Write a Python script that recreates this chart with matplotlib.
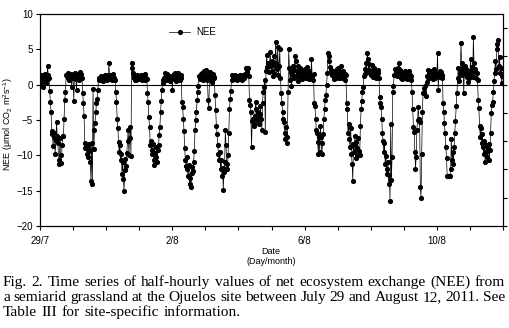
import numpy as np
import matplotlib.pyplot as plt

plt.rcParams['font.family'] = ['Liberation Sans', 'DejaVu Sans']
plt.rcParams['mathtext.fontset'] = 'custom'
plt.rcParams['mathtext.rm'] = 'Liberation Sans'
plt.rcParams['mathtext.it'] = 'Liberation Sans:italic'

# half-hourly NEE (umol CO2 m-2 s-1), 48 values per day
nee_29jul = [1.2, 0.3, 1.4, 1.0, -0.3, 1.3, 0.8, 1.5, 0.2, 1.1, 0.6, 2.6, 1.3, 0.9,
             -0.9, -2.4, -3.8, -6.5, -7.0,
             -8.7, -6.8, -7.4, -9.8, -7.9, -5.3, -7.2, -8.2, -10.6, -11.2, -7.5, -9.9, -11.1, -8.6, -7.3,
             -7.3, -4.8, -2.1, -1.0,
             1.4, 1.2, 0.9, 1.7, 0.7, 1.3, 1.0, 1.5, -0.4, 1.2]
nee_30jul = [0.9, -2.3, 1.2, 1.6, 0.8, -0.7, 1.4, 1.1, 0.6, 1.3, 1.8, 0.9, 1.5, 1.0,
             -1.2, -2.6, -4.5,
             -8.2, -9.0, -8.6, -9.8, -8.9, -10.2, -8.4, -9.4, -11.0, -13.6, -8.3, -14.0, -0.6, -9.1,
             -6.4, -5.4, -3.8, -2.6, -2.0, -0.8,
             0.9, 0.6, 1.0, 0.7, 1.2, 0.8, 1.1, 0.5, 0.9, 1.3, 0.8]
nee_31jul = [1.0, 0.7, 1.3, 0.9, 3.0, 1.4, 0.8, 1.2, 0.6, 1.1, 1.5, 0.9, 1.0, 0.7,
             -1.0, -2.4, -4.8, -6.2, -8.1,
             -9.5, -8.6, -10.7, -9.8, -12.6, -11.0, -13.3, -15.0, -12.1, -10.5, -11.5, -9.6, -8.0, -6.4,
             -9.9, -7.6, -6.0, -10.1,
             3.0, 2.3, 1.6, 0.9, 1.2, 0.7, 1.0, 0.6, 1.3, 0.8, 1.1]
nee_1aug = [1.2, 0.8, 1.4, 1.0, 0.6, 1.3, 0.9, 1.1, 0.7, 1.5, 1.0, 0.8,
            -1.2, -2.4, -4.6, -6.0,
            -8.6, -8.0, -9.2, -9.8, -8.4, -10.7, -11.4, -9.6, -10.2, -8.8, -11.0, -9.3, -8.6, -7.1,
            -6.0, -3.8, -2.3, -0.7, 0.3, 0.7,
            1.0, 1.7, 0.9, 1.3, 0.6, 1.5, 1.1, 0.8, 1.2, 0.5, 1.0, 0.9]
nee_2aug = [-0.7, 1.0, 1.5, 0.8, 1.7, 1.2, 0.5, 1.4, 0.9, 1.6, 1.1, 0.7, 1.3, 1.0,
            -2.4, -3.1, -4.9, -6.5,
            -9.0, -10.7, -11.5, -10.2, -12.0, -12.9, -11.3, -14.0, -13.2, -14.5, -12.5, -11.6, -12.2,
            -10.9, -9.4, -6.4, -5.0, -3.8, -2.1, -1.0, -0.2,
            1.2, 0.8, 1.5, 1.0, 1.7, 0.6, 1.3, 1.9, 0.9]
nee_3aug = [1.1, 2.1, 1.4, 0.6, -2.1, -3.3, 1.0, 1.8, 0.7, 1.2, 0.4, 1.5, 0.9, 1.1,
            -1.5, -3.6, -5.8, -7.0,
            -8.5, -9.8, -10.7, -9.5, -11.9, -10.6, -12.9, -11.8, -14.9, -12.3, -11.0, -6.4, -8.6, -11.2,
            -11.9, -10.0,
            -6.8, -3.5, -2.0, -0.9,
            0.7, 1.4, 1.0, 1.2, 0.8, 1.3, 0.9, 1.1, 0.6, 1.0]
nee_4aug = [1.2, 0.9, 1.4, 0.8, 1.1, 0.7, 1.0, 1.3, 0.9, 1.5, 1.2, 2.3, 2.4, 1.8, 2.3, 1.2,
            -2.1, -2.9, -3.8, -8.8,
            -5.2, -4.8, -5.6, -5.9, -4.4, -2.4, -3.5, -5.0, -3.8, -4.7, -5.5, -4.2, -3.0, -4.8, -6.4,
            -2.6, -1.0, -0.3, 0.7, -6.7, 1.9,
            4.2, 2.5, 3.0, 1.8, 2.6, 4.6, 3.2]
nee_5aug = [2.0, 3.3, 1.2, 4.0, 2.8, 1.5, 6.1, 3.0, 2.2, 5.3, 1.4, 2.6, 5.0, 1.0,
            -1.2, -2.6, -3.8, -4.8, -5.3, -6.9, -7.7, -6.0, -8.3, -7.4, -1.0,
            5.0, 2.3, 0.6, 1.8, -0.2, 1.5, 2.7, 0.9, 2.1, 4.1, 3.4, 1.2, 2.0, 0.5, 2.6, 1.8, 1.1,
            2.3, 1.4, 0.8, 2.0, 1.2, 1.6]
nee_6aug = [1.3, 2.2, 0.9, 1.7, 2.5, 1.1, 1.9, 0.8, 1.4, 1.0, 3.6, 1.2, 0.7, 1.5,
            -2.6, -3.0, -4.8, -6.4, -6.9, -8.1, -9.8, -7.4, -9.5, -5.9, -7.4, -9.8, -8.3, -7.0,
            -4.8, -3.5, -2.1, -1.4, 0.0,
            1.6, 4.5, 4.0, 3.4, 2.5, 2.1, 1.7, 1.3, 2.0, 0.8, 1.2, 1.8, 1.0, 1.5, 2.2]
nee_7aug = [1.6, 2.3, 1.0, 1.8, 1.2, 2.6, 0.9, 1.4, 2.0, 1.1, 1.5, 0.7, 1.3,
            -2.6, -3.5, -6.9, -5.5, -7.7, -8.8, -6.2, -9.8, -11.2, -13.6, -8.4, -9.5, -7.3, -10.4,
            -8.1, -9.0, -7.6, -10.0, -9.4, -10.0,
            -5.9, -3.5, -2.3, -1.0, -0.3,
            1.2, 2.2, 1.5, 3.0, 1.8, 4.5, 3.7, 2.1, 2.9, 1.6]
nee_8aug = [2.0, 1.4, 2.8, 1.7, 1.1, 2.3, 1.5, 0.9, 1.8, 1.2, 2.1, 1.6, 1.0,
            -1.8, -2.6, -3.2, -4.8, -6.9, -8.0, -9.5, -8.2, -11.2, -10.1, -11.9, -12.6, -11.0,
            -14.0, -12.8, -16.4, -5.6, -13.5, -10.2,
            -1.0, -0.2,
            1.4, 2.2, 1.6, 2.0, 1.2, 1.8, 2.4, 3.0, 1.5, 2.1, 1.0, 1.7, 0.8, 1.3]
nee_9aug = [1.5, 1.0, 2.0, 1.3, 0.8, 1.6, 1.1, 1.9, 0.9, 1.4, 1.2, 0.7,
            -1.0, -3.5, -6.0, -6.7, -9.5, -11.9, -10.2, -6.4, -5.0, -3.1, -4.8, -5.3, -14.5, -16.0,
            -9.8, -3.8, -1.2,
            -1.0, -0.5, -0.2, -1.6, 0.4,
            1.2, 2.1, 1.5, 0.9, 1.8, 1.3, 2.0, 1.6, 0.8, 1.4, 2.2, 1.0, 1.7, 1.2]
nee_10aug = [1.3, 4.5, -0.7, 1.6, 2.0, 1.1, 1.8, 0.9, 1.4,
             -2.6, -3.8, -5.4, -6.9, -8.8, -10.4, -12.9, -12.9, -12.9, -12.9, -12.9, -11.9, -7.7,
             -10.6, -9.5, -11.2, -8.8, -6.9, -5.2, -3.0, -1.2,
             1.0, 2.3, 0.5, 2.0, 1.7, 5.9, 3.0, 1.3, 2.5, -1.2, 1.9, 2.6, 1.5, 2.2, 1.1, 0.4, 1.8, 1.0]
nee_11aug = [2.0, 3.6, 1.4, 2.5, 1.1, 6.7, 3.0, 1.8, 2.2, 1.0, 1.6, 0.7,
             -2.1, -3.3, -5.8, -7.4, -6.2, -8.3, -7.0, -8.8, -9.8, -8.0, -11.0, -9.5, -8.6, -10.2,
             -9.0, -8.4, -10.6, -9.2, -6.9,
             -4.0, -2.9, -2.4, -1.0, 0.5,
             1.6, 3.4, 2.2, 5.7, 5.0, 6.3, 2.6, 3.9, 1.7, 2.4, 0.3, 1.2]

day_lists = [nee_29jul, nee_30jul, nee_31jul, nee_1aug, nee_2aug, nee_3aug, nee_4aug,
             nee_5aug, nee_6aug, nee_7aug, nee_8aug, nee_9aug, nee_10aug, nee_11aug]
day_ticks = ['29/7', '', '', '', '2/8', '', '', '', '6/8', '', '', '', '10/8', '', '']

nee = np.concatenate(day_lists)
t = np.arange(len(nee)) / 48.0

W, H = 509, 328
fig = plt.figure(figsize=(W / 100, H / 100), dpi=100)
ax = fig.add_axes([40 / W, 1 - 226 / H, 463 / W, 212 / H])

ax.plot(t, nee, '-o', color='k', lw=0.5, ms=2.7, label='NEE')
ax.axhline(0, color='k', lw=0.8)

ax.set_xlim(0, 14)
ax.set_ylim(-20, 10)
ax.set_xticks(range(15))
ax.set_xticklabels(day_ticks)
ax.set_yticks(np.arange(-20, 11, 5))
ax.tick_params(direction='out', length=3, width=0.8, labelsize=7, pad=2)
ax.tick_params(axis='x', pad=4)
for s in ax.spines.values():
    s.set_linewidth(0.8)

ax2 = ax.twinx()
ax2.set_ylim(-20, 10)
ax2.set_yticks(np.arange(-20, 9, 4))
ax2.set_yticklabels([])
ax2.tick_params(direction='out', length=3, width=0.8)

ax.set_ylabel('NEE (\u03bcmol CO$_2$ m$^2$s$^{-1}$)', fontsize=6.5)
ax.yaxis.set_label_coords(-0.055, 0.48)

ax.legend(loc='center left', bbox_to_anchor=(0.27, 0.915), frameon=False, fontsize=7,
          handlelength=2.2, handletextpad=0.6, borderaxespad=0)

fig.text(271 / W, 1 - 252 / H, 'Date', ha='center', va='center', fontsize=6.5)
fig.text(271 / W, 1 - 261 / H, '(Day/month)', ha='center', va='center', fontsize=6.5)

# caption, justified by hand
cap_lines = ['Fig. 2. Time series of half-hourly values of net ecosystem exchange (NEE) from',
             'a semiarid grassland at the Ojuelos site between July 29 and August 12, 2011. See',
             'Table III for site-specific information.']
cap_base = [286, 301, 316]
x_left, x_right = 3, 505
renderer = fig.canvas.get_renderer()

# pick a font size so that the first line just fits with normal spacing
probe = fig.text(0, 0, cap_lines[0], fontsize=10, family='Liberation Serif')
fs = 10 * (x_right - x_left) / probe.get_window_extent(renderer).width * 0.985
probe.remove()

space_w = None
for k, line in enumerate(cap_lines):
    words = line.split(' ')
    txts = [fig.text(0, 1 - cap_base[k] / H, w, fontsize=fs, family='Liberation Serif',
                     va='baseline', ha='left') for w in words]
    widths = [tx.get_window_extent(renderer).width for tx in txts]
    if k < 2:
        gap = (x_right - x_left - sum(widths)) / (len(words) - 1)
        if space_w is None:
            space_w = gap
    else:
        gap = space_w
    xx = x_left
    for tx, wd in zip(txts, widths):
        tx.set_x(xx / W)
        xx += wd + gap

fig.savefig('out.png', dpi=100)
